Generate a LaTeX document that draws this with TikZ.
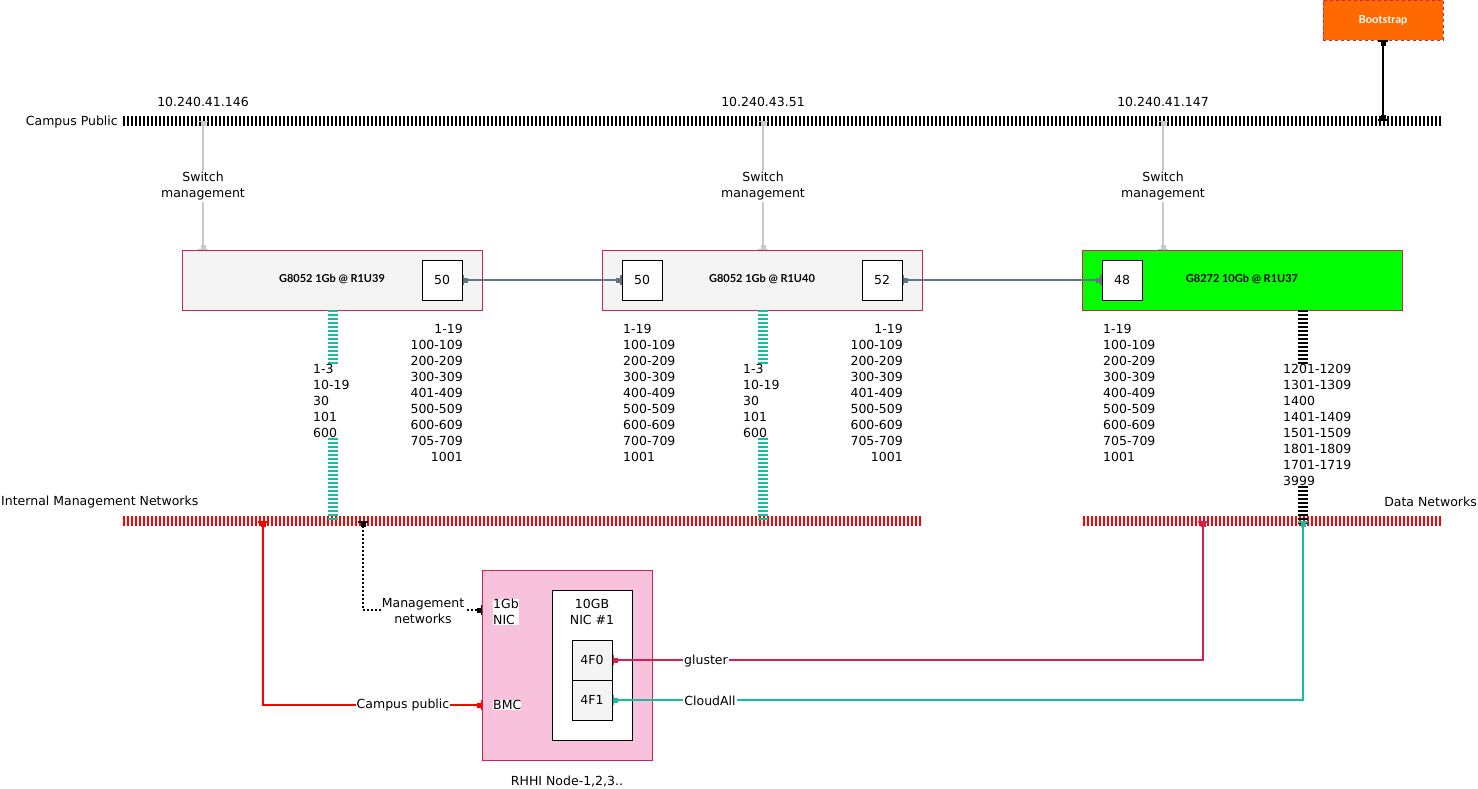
\documentclass[tikz,border=0pt]{standalone}
\usepackage{fontspec}
\setmainfont{DejaVu Sans}
\newfontfamily\latofont{Lato}
\usetikzlibrary{arrows.meta,calc}

\definecolor{crimson}{HTML}{D6204E}
\definecolor{tealline}{HTML}{14BFA0}
\definecolor{slate}{HTML}{5E7785}
\definecolor{mgmtgray}{HTML}{C8C8C8}
\definecolor{boxgray}{HTML}{F4F4F4}
\definecolor{nodepink}{HTML}{F8C1DC}
\definecolor{bootorange}{HTML}{FF6A00}
\definecolor{brightgreen}{HTML}{00FF00}

\tikzset{
  bus/.style={line width=10pt, dash pattern=on 2pt off 2pt},
  trunk/.style={line width=10pt, dash pattern=on 2pt off 2pt},
  endbars/.style={{Bar[width=10pt,line width=1.5pt]Square[length=4pt,width=5pt]}-{Square[length=4pt,width=5pt]Bar[width=10pt,line width=1.5pt]}},
  link/.style={line width=2pt, endbars},
  switchbox/.style={draw=crimson, line width=1pt, minimum height=60pt, inner sep=0pt},
  portbox/.style={draw=black, fill=white, line width=1pt, minimum width=40pt, minimum height=40pt, inner sep=0pt},
  subport/.style={draw=black, fill=boxgray, line width=1pt, minimum width=40pt, minimum height=40pt, inner sep=0pt},
  title/.style={font=\latofont\bfseries\fontsize{11}{13}\selectfont},
  plain/.style={inner sep=0pt},
  lbl/.style={fill=white, inner sep=1pt, align=center},
  vlan/.style={inner sep=0pt, fill=white},
}

\begin{document}
\begin{tikzpicture}[x=1pt, y=-1pt, font=\fontsize{12.5}{16}\selectfont]
\useasboundingbox (0,0) rectangle (1478,789);

% ---- network buses ----
\coordinate (campusL) at (123,121);
\coordinate (campusR) at (1442,121);
\coordinate (imnL) at (123,521);
\coordinate (imnR) at (921,521);
\coordinate (dataL) at (1083,521);
\coordinate (dataR) at (1442,521);
\draw[bus, black] (campusL) -- (campusR);
\draw[bus, red] (imnL) -- (imnR);
\draw[bus, red] (dataL) -- (dataR);

\node[plain, anchor=east] (campuslbl) at (118,122) {Campus Public};
\node[plain, anchor=west] (imnlbl) at (1,502) {Internal Management Networks};
\node[plain, anchor=east] (datalbl) at (1477,502) {Data Networks};

% ---- bus attachment points ----
\coordinate (cp1) at (203,121);
\coordinate (cp2) at (763,121);
\coordinate (cp3) at (1163,121);
\coordinate (cpboot) at (1383,121);
\coordinate (imn1) at (333,521);
\coordinate (imn2) at (763,521);
\coordinate (imnbmc) at (263,521);
\coordinate (imnnic) at (363,521);
\coordinate (data3) at (1303,525);
\coordinate (datagl) at (1203,521);
\coordinate (datacl) at (1303,521);

% ---- management IPs ----
\node[plain] (ip1) at (203,102) {10.240.41.146};
\node[plain] (ip2) at (763,102) {10.240.43.51};
\node[plain] (ip3) at (1163,102) {10.240.41.147};

% ---- bootstrap host ----
\node[draw=crimson, dashed, fill=bootorange, minimum width=120pt, minimum height=40pt, inner sep=0pt,
      title, text=white] (boot) at (1383,20) {Bootstrap};
\draw[link, black] (boot.south) -- (cpboot);

% ---- switches ----
\node[switchbox, fill=boxgray, minimum width=300pt] (sw1) at (332,280) {};
\node[title] (sw1t) at (332,279) {G8052 1Gb @ R1U39};
\node[portbox] (sw1p50) at (442,280) {50};

\node[switchbox, fill=boxgray, minimum width=320pt] (sw2) at (762,280) {};
\node[title] (sw2t) at (762,279) {G8052 1Gb @ R1U40};
\node[portbox] (sw2p50) at (642,280) {50};
\node[portbox] (sw2p52) at (882,280) {52};

\node[switchbox, fill=brightgreen, minimum width=320pt] (sw3) at (1242,280) {};
\node[title] (sw3t) at (1242,279) {G8272 10Gb @ R1U37};
\node[portbox] (sw3p48) at (1122,280) {48};

% inter-switch links
\draw[link, slate] (sw1p50.east) -- (sw2p50.west);
\draw[link, slate] (sw2p52.east) -- (sw3p48.west);

% switch management uplinks
\coordinate (sw1top) at (203,250);
\coordinate (sw2top) at (763,250);
\coordinate (sw3top) at (1163,250);
\draw[link, mgmtgray] (cp1) -- (sw1top) node[pos=0.5, yshift=-1pt, lbl, text=black] (m1) {Switch\\management};
\draw[link, mgmtgray] (cp2) -- (sw2top) node[pos=0.5, yshift=-1pt, lbl, text=black] (m2) {Switch\\management};
\draw[link, mgmtgray] (cp3) -- (sw3top) node[pos=0.5, yshift=-1pt, lbl, text=black] (m3) {Switch\\management};

% ---- VLAN lists beside the links ----
\node[plain, anchor=east, align=right] (v1r) at (463,393)
  {1-19\\100-109\\200-209\\300-309\\401-409\\500-509\\600-609\\705-709\\1001};
\node[plain, anchor=west, align=left] (v2l) at (623,393)
  {1-19\\100-109\\200-209\\300-309\\400-409\\500-509\\600-609\\700-709\\1001};
\node[plain, anchor=east, align=right] (v2r) at (903,393)
  {1-19\\100-109\\200-209\\300-309\\401-409\\500-509\\600-609\\705-709\\1001};
\node[plain, anchor=west, align=left] (v3l) at (1103,393)
  {1-19\\100-109\\200-209\\300-309\\400-409\\500-509\\600-609\\705-709\\1001};

% ---- switch downlinks to the networks ----
\coordinate (sw1bot) at (333,310);
\coordinate (sw2bot) at (763,310);
\coordinate (sw3bot) at (1303,310);
\draw[trunk, tealline] (sw1bot) -- (imn1);
\draw[trunk, tealline] (sw2bot) -- (imn2);
\draw[trunk, black] (sw3bot) -- (data3);
\node[vlan, align=left, anchor=west] (t1) at (313,401) {1-3\\10-19\\30\\101\\600};
\node[vlan, align=left, anchor=west] (t2) at (743,401) {1-3\\10-19\\30\\101\\600};
\node[vlan, align=left, anchor=west] (t3) at (1283,425)
  {1201-1209\\1301-1309\\1400\\1401-1409\\1501-1509\\1801-1809\\1701-1719\\3999};

% ---- RHHI node ----
\node[draw=crimson, fill=nodepink, line width=1pt, minimum width=170pt, minimum height=190pt, inner sep=0pt]
  (rhhi) at (567,665) {};
\node[plain] (rhhilbl) at (567,781) {RHHI Node-1,2,3..};
\node[fill=white, inner sep=0pt, align=left, anchor=west] (nic1g) at (493,612) {1Gb\\NIC};
\node[fill=white, inner sep=0pt, anchor=west] (bmc) at (493,705) {BMC};
\node[draw=black, fill=white, line width=1pt, minimum width=80pt, minimum height=150pt, inner sep=0pt]
  (nic10) at (592,665) {};
\node[plain, align=center] (nic10lbl) at (592,612) {10GB\\NIC \#1};
\node[subport] (p4f0) at (592,660) {4F0};
\node[subport] (p4f1) at (592,700) {4F1};

% ---- node cabling ----
\coordinate (bmcin) at (482,705);
\coordinate (nicin) at (482,610);
\draw[link, red] (imnbmc) |- (bmcin);
\node[lbl] (campuspub) at (403,705) {Campus public};
\draw[link, black, dash pattern=on 2pt off 2pt] (imnnic) |- (nicin);
\node[lbl] (mgmtnet) at (423,611) {Management\\networks};
\draw[link, crimson] (p4f0.east) -| (datagl);
\node[lbl] (gl) at (706,661) {gluster};
\draw[link, tealline] (p4f1.east) -| (datacl);
\node[lbl] (cl) at (710,701) {CloudAll};

\end{tikzpicture}
\end{document}
